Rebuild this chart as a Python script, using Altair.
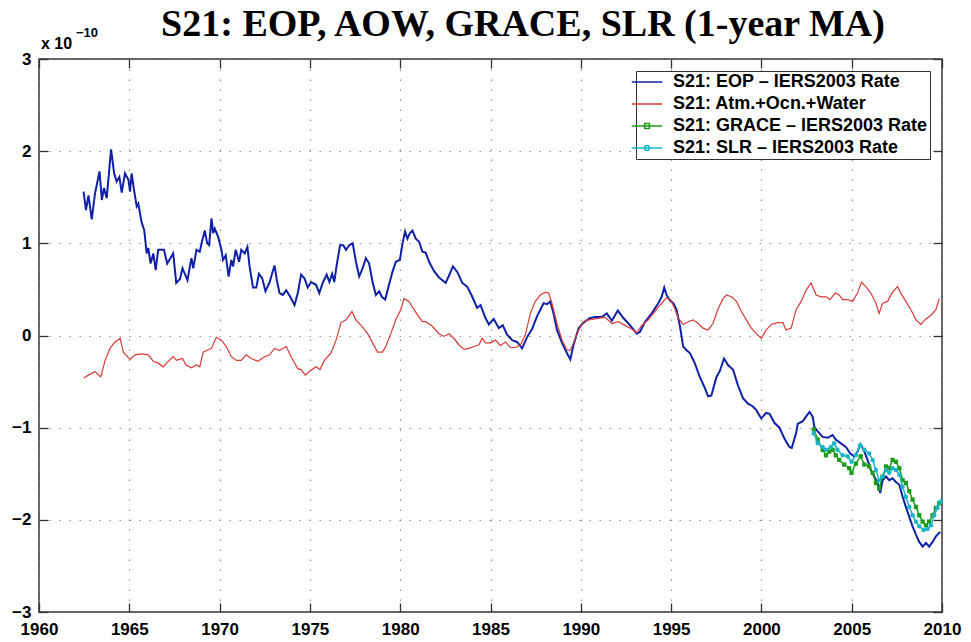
import altair as alt
import pandas as pd

# ---------------- data (units of 1e-10) ----------------
eop_year = [1962.47, 1962.6, 1962.74, 1962.92, 1963.1, 1963.35, 1963.48, 1963.6, 1963.75, 1963.99,
            1964.16, 1964.3, 1964.45, 1964.58, 1964.76, 1964.95, 1965.04, 1965.13, 1965.26, 1965.41,
            1965.5, 1965.68, 1965.83, 1965.96, 1966.05, 1966.18, 1966.33, 1966.46, 1966.6, 1966.79,
            1966.92, 1967.1, 1967.28, 1967.43, 1967.6, 1967.8, 1967.95, 1968.07, 1968.22, 1968.44,
            1968.54, 1968.72, 1968.9, 1969.05, 1969.18, 1969.31, 1969.42, 1969.55, 1969.64, 1969.73,
            1969.92, 1970.1, 1970.19, 1970.34, 1970.5, 1970.65, 1970.75, 1970.89, 1971.08, 1971.2,
            1971.39, 1971.54, 1971.66, 1971.85, 1972.03, 1972.18, 1972.36, 1972.54, 1972.77, 1973.04,
            1973.17, 1973.32, 1973.5, 1973.69, 1973.91, 1974.15, 1974.33, 1974.51, 1974.7, 1974.88,
            1975.07, 1975.34, 1975.52, 1975.71, 1975.93, 1976.08, 1976.23, 1976.35, 1976.48, 1976.67,
            1976.85, 1977.0, 1977.18, 1977.37, 1977.55, 1977.73, 1977.92, 1978.1, 1978.28, 1978.47,
            1978.65, 1978.84, 1978.98, 1979.17, 1979.35, 1979.57, 1979.76, 1979.98, 1980.13, 1980.27,
            1980.4, 1980.53, 1980.68, 1980.86, 1981.04, 1981.23, 1981.41, 1981.6, 1981.87, 1982.15,
            1982.52, 1982.7, 1982.92, 1983.16, 1983.44, 1983.71, 1983.99, 1984.26, 1984.45, 1984.72,
            1984.91, 1985.18, 1985.46, 1985.68, 1985.92, 1986.2, 1986.47, 1986.75, 1987.02, 1987.3,
            1987.58, 1987.76, 1987.94, 1988.13, 1988.31, 1988.49, 1988.68, 1988.96, 1989.23, 1989.42,
            1989.6, 1989.88, 1990.15, 1990.52, 1990.8, 1991.16, 1991.44, 1991.72, 1992.05, 1992.36,
            1992.73, 1993.1, 1993.28, 1993.56, 1993.93, 1994.29, 1994.48, 1994.62, 1994.75, 1994.94,
            1995.12, 1995.3, 1995.49, 1995.67, 1995.86, 1996.04, 1996.31, 1996.59, 1996.87, 1997.05,
            1997.23, 1997.51, 1997.69, 1997.93, 1998.15, 1998.43, 1998.7, 1998.98, 1999.26, 1999.53,
            1999.72, 1999.99, 2000.27, 2000.45, 2000.73, 2001.0, 2001.28, 2001.55, 2001.68, 2001.92,
            2002.01, 2002.29, 2002.47, 2002.66, 2002.84, 2002.93, 2003.12, 2003.39, 2003.67, 2003.94,
            2004.12, 2004.4, 2004.68, 2004.92, 2005.14, 2005.32, 2005.5, 2005.7, 2005.88, 2006.06,
            2006.25, 2006.43, 2006.58, 2006.71, 2006.9, 2007.08, 2007.26, 2007.45, 2007.64, 2007.82,
            2008.0, 2008.19, 2008.37, 2008.56, 2008.74, 2008.93, 2009.11, 2009.29, 2009.48, 2009.66,
            2009.9]
eop_val = [1.56, 1.36, 1.52, 1.26, 1.54, 1.78, 1.47, 1.60, 1.49, 2.02,
           1.76, 1.67, 1.72, 1.55, 1.76, 1.69, 1.56, 1.76, 1.58, 1.40,
           1.43, 1.23, 1.14, 0.89, 0.95, 0.78, 0.89, 0.71, 0.93, 0.93,
           0.93, 0.78, 0.84, 0.89, 0.57, 0.61, 0.73, 0.67, 0.60, 0.84,
           0.73, 0.93, 0.91, 1.04, 1.14, 1.00, 0.98, 1.27, 1.11, 1.16,
           1.07, 0.93, 0.82, 0.87, 0.64, 0.82, 0.75, 0.93, 0.80, 0.93,
           0.89, 0.96, 0.75, 0.52, 0.52, 0.67, 0.62, 0.48, 0.58, 0.76,
           0.60, 0.46, 0.44, 0.49, 0.42, 0.33, 0.46, 0.66, 0.62, 0.52,
           0.58, 0.55, 0.46, 0.57, 0.66, 0.58, 0.67, 0.58, 0.76, 0.98,
           0.98, 0.93, 0.98, 1.00, 0.80, 0.64, 0.73, 0.84, 0.78, 0.58,
           0.44, 0.48, 0.42, 0.39, 0.53, 0.69, 0.80, 0.82, 1.00, 1.13,
           1.05, 1.11, 1.14, 1.05, 1.02, 0.91, 0.90, 0.80, 0.70, 0.63,
           0.57, 0.65, 0.75, 0.69, 0.57, 0.53, 0.42, 0.30, 0.33, 0.19,
           0.12, 0.18, 0.08, 0.11, 0.01, -0.05, -0.07, -0.14, -0.02, 0.07,
           0.21, 0.28, 0.35, 0.34, 0.37, 0.24, 0.06, -0.08, -0.19, -0.26,
           -0.10, 0.08, 0.14, 0.19, 0.20, 0.20, 0.24, 0.16, 0.27, 0.19,
           0.11, 0.02, 0.04, 0.15, 0.24, 0.35, 0.42, 0.52, 0.44, 0.38,
           0.35, 0.28, 0.10, -0.12, -0.16, -0.19, -0.30, -0.45, -0.57, -0.66,
           -0.65, -0.45, -0.39, -0.25, -0.32, -0.37, -0.54, -0.68, -0.74, -0.77,
           -0.81, -0.90, -0.84, -0.85, -0.95, -1.00, -1.12, -1.21, -1.22, -1.06,
           -0.96, -0.93, -0.88, -0.83, -0.88, -0.99, -1.04, -1.10, -1.11, -1.08,
           -1.13, -1.17, -1.21, -1.28, -1.31, -1.26, -1.18, -1.26, -1.35, -1.46,
           -1.53, -1.60, -1.71, -1.57, -1.53, -1.57, -1.55, -1.59, -1.62, -1.75,
           -1.86, -1.97, -2.07, -2.16, -2.24, -2.29, -2.25, -2.29, -2.24, -2.18,
           -2.13]

aow_year = [1962.47, 1962.74, 1963.1, 1963.42, 1963.66, 1963.93, 1964.21, 1964.49, 1964.67, 1965.04,
            1965.32, 1965.68, 1966.05, 1966.33, 1966.6, 1966.88, 1967.16, 1967.43, 1967.62, 1967.95,
            1968.13, 1968.44, 1968.72, 1968.9, 1969.09, 1969.31, 1969.55, 1969.82, 1970.1, 1970.37,
            1970.65, 1970.93, 1971.2, 1971.48, 1971.76, 1972.12, 1972.49, 1972.77, 1973.04, 1973.32,
            1973.69, 1973.96, 1974.33, 1974.51, 1974.75, 1974.97, 1975.34, 1975.56, 1975.8, 1976.17,
            1976.45, 1976.72, 1977.0, 1977.33, 1977.55, 1977.88, 1978.2, 1978.47, 1978.75, 1979.02,
            1979.2, 1979.48, 1979.76, 1980.03, 1980.21, 1980.49, 1980.77, 1981.04, 1981.23, 1981.41,
            1981.78, 1982.15, 1982.42, 1982.7, 1982.97, 1983.25, 1983.53, 1983.8, 1984.08, 1984.36,
            1984.54, 1984.72, 1985.0, 1985.28, 1985.55, 1985.83, 1986.1, 1986.38, 1986.66, 1986.93,
            1987.21, 1987.48, 1987.76, 1988.04, 1988.22, 1988.4, 1988.68, 1988.96, 1989.23, 1989.42,
            1989.6, 1989.88, 1990.15, 1990.43, 1990.8, 1991.33, 1991.72, 1992.08, 1992.45, 1992.82,
            1993.1, 1993.37, 1993.74, 1994.1, 1994.48, 1994.75, 1994.99, 1995.21, 1995.39, 1995.67,
            1995.95, 1996.22, 1996.5, 1996.77, 1997.05, 1997.32, 1997.6, 1997.88, 1998.06, 1998.34,
            1998.62, 1998.89, 1999.17, 1999.44, 1999.72, 1999.99, 2000.27, 2000.55, 2000.91, 2001.19,
            2001.37, 2001.65, 2001.92, 2002.2, 2002.47, 2002.75, 2003.03, 2003.3, 2003.58, 2003.8,
            2004.09, 2004.31, 2004.5, 2004.77, 2005.05, 2005.32, 2005.54, 2005.79, 2006.06, 2006.34,
            2006.52, 2006.71, 2006.99, 2007.26, 2007.54, 2007.72, 2008.0, 2008.28, 2008.56, 2008.83,
            2009.11, 2009.39, 2009.66, 2009.85]
aow_val = [-0.46, -0.43, -0.39, -0.45, -0.27, -0.14, -0.07, -0.03, -0.18, -0.26,
           -0.21, -0.20, -0.21, -0.28, -0.30, -0.34, -0.28, -0.23, -0.27, -0.25,
           -0.32, -0.35, -0.32, -0.34, -0.18, -0.16, -0.14, -0.02, -0.05, -0.12,
           -0.23, -0.27, -0.27, -0.21, -0.25, -0.28, -0.23, -0.21, -0.14, -0.16,
           -0.12, -0.23, -0.36, -0.37, -0.43, -0.39, -0.34, -0.37, -0.27, -0.19,
           -0.05, 0.14, 0.17, 0.26, 0.17, 0.10, 0.02, -0.08, -0.18, -0.18,
           -0.12, 0.02, 0.17, 0.28, 0.40, 0.37, 0.28, 0.20, 0.15, 0.15,
           0.10, 0.02, -0.01, 0.02, -0.03, -0.10, -0.15, -0.14, -0.12, -0.10,
           -0.03, -0.08, -0.08, -0.05, -0.11, -0.07, -0.13, -0.13, -0.10, 0.01,
           0.24, 0.37, 0.44, 0.47, 0.46, 0.35, 0.13, -0.05, -0.16, -0.16,
           -0.08, 0.06, 0.15, 0.17, 0.18, 0.20, 0.13, 0.15, 0.11, 0.07,
           0.03, 0.11, 0.17, 0.26, 0.35, 0.41, 0.38, 0.29, 0.19, 0.12,
           0.15, 0.17, 0.13, 0.08, 0.06, 0.13, 0.29, 0.40, 0.44, 0.42,
           0.37, 0.26, 0.17, 0.08, 0.02, -0.03, 0.06, 0.12, 0.14, 0.14,
           0.06, 0.08, 0.28, 0.37, 0.49, 0.57, 0.44, 0.42, 0.42, 0.39,
           0.46, 0.44, 0.39, 0.39, 0.37, 0.46, 0.58, 0.53, 0.46, 0.35,
           0.24, 0.35, 0.37, 0.47, 0.53, 0.46, 0.37, 0.28, 0.17, 0.12,
           0.18, 0.22, 0.28, 0.40]

grace_year = [2002.9, 2003.12, 2003.39, 2003.58, 2003.76, 2003.94, 2004.12, 2004.31, 2004.58, 2004.86,
              2004.99, 2005.23, 2005.5, 2005.7, 2005.97, 2006.16, 2006.34, 2006.52, 2006.71, 2006.9,
              2007.08, 2007.26, 2007.45, 2007.64, 2007.82, 2008.0, 2008.19, 2008.37, 2008.56, 2008.74,
              2008.93, 2009.11, 2009.29, 2009.48, 2009.66, 2009.85]
grace_val = [-1.02, -1.13, -1.24, -1.30, -1.26, -1.24, -1.30, -1.35, -1.40, -1.44,
             -1.49, -1.39, -1.31, -1.40, -1.42, -1.49, -1.60, -1.66, -1.53, -1.42,
             -1.44, -1.35, -1.37, -1.44, -1.57, -1.60, -1.69, -1.78, -1.86, -1.95,
             -2.02, -2.06, -2.02, -1.95, -1.87, -1.82]

slr_year = [2002.9, 2003.12, 2003.39, 2003.58, 2003.85, 2004.03, 2004.21, 2004.5, 2004.77, 2004.99,
            2005.23, 2005.47, 2005.7, 2005.97, 2006.16, 2006.34, 2006.52, 2006.71, 2006.9, 2007.08,
            2007.26, 2007.45, 2007.64, 2007.82, 2008.0, 2008.19, 2008.37, 2008.56, 2008.74, 2008.98,
            2009.2, 2009.39, 2009.57, 2009.75, 2009.94]
slr_val = [-1.06, -1.17, -1.21, -1.24, -1.21, -1.17, -1.24, -1.30, -1.31, -1.37,
           -1.30, -1.19, -1.24, -1.28, -1.35, -1.46, -1.57, -1.53, -1.46, -1.49,
           -1.44, -1.46, -1.51, -1.64, -1.75, -1.86, -1.95, -2.02, -2.07, -2.11,
           -2.10, -2.06, -1.95, -1.87, -1.80]

series_names = ["S21: EOP – IERS2003 Rate", "S21: Atm.+Ocn.+Water",
                "S21: GRACE – IERS2003 Rate", "S21: SLR – IERS2003 Rate"]
series_colors = ["#1020a8", "#d93a3a", "#1a9e1a", "#1ab4c8"]
x_ticks = [1960, 1965, 1970, 1975, 1980, 1985, 1990, 1995, 2000, 2005, 2010]
y_ticks = [-3, -2, -1, 0, 1, 2, 3]
title_text = "S21: EOP, AOW, GRACE, SLR (1-year MA)"

# ---------------- chart ----------------
eop_df = pd.DataFrame({"year": eop_year, "value": eop_val})
aow_df = pd.DataFrame({"year": aow_year, "value": aow_val})
grace_df = pd.DataFrame({"year": grace_year, "value": grace_val})
slr_df = pd.DataFrame({"year": slr_year, "value": slr_val})

xs = alt.Scale(domain=[1960, 2010], nice=False, zero=False)
ys = alt.Scale(domain=[-3, 3], nice=False, zero=False)

ax_x_main = alt.Axis(orient="bottom", values=x_ticks, format="d", ticks=False, domain=False,
                     grid=True, title=None, labelPadding=9, labelFlush=False, labelOverlap=False)
ax_y_main = alt.Axis(orient="left", values=y_ticks, ticks=False, domain=False, grid=True,
                     title=None, labelPadding=8, labelOverlap=False)
ax_x_bot = alt.Axis(orient="bottom", offset=-9, values=x_ticks, ticks=True, tickSize=9,
                    labels=False, domain=False, grid=False, title=None)
ax_x_top = alt.Axis(orient="top", offset=-9, values=x_ticks, ticks=True, tickSize=9,
                    labels=False, domain=False, grid=False, title=None)
ax_y_left = alt.Axis(orient="left", offset=-9, values=y_ticks, ticks=True, tickSize=9,
                     labels=False, domain=False, grid=False, title=None)
ax_y_right = alt.Axis(orient="right", offset=-9, values=y_ticks, ticks=True, tickSize=9,
                      labels=False, domain=False, grid=False, title=None)

eop_line = alt.Chart(eop_df).mark_line(color=series_colors[0], strokeWidth=2).encode(
    x=alt.X("year:Q", scale=xs, axis=ax_x_main),
    y=alt.Y("value:Q", scale=ys, axis=ax_y_main))

aow_line = alt.Chart(aow_df).mark_line(color=series_colors[1], strokeWidth=1.2).encode(
    x=alt.X("year:Q", scale=xs, axis=ax_x_bot),
    y=alt.Y("value:Q", scale=ys, axis=ax_y_left))

grace_line = alt.Chart(grace_df).mark_line(color=series_colors[2], strokeWidth=1.5).encode(
    x=alt.X("year:Q", scale=xs, axis=ax_x_top),
    y=alt.Y("value:Q", scale=ys, axis=ax_y_right))
grace_pts = alt.Chart(grace_df).mark_point(shape="square", filled=True, size=18, opacity=1,
                                           color=series_colors[2]).encode(
    x=alt.X("year:Q", scale=xs, axis=None), y=alt.Y("value:Q", scale=ys, axis=None))

slr_line = alt.Chart(slr_df).mark_line(color=series_colors[3], strokeWidth=1.5).encode(
    x=alt.X("year:Q", scale=xs, axis=None), y=alt.Y("value:Q", scale=ys, axis=None))
slr_pts = alt.Chart(slr_df).mark_point(shape="circle", filled=True, size=20, opacity=1,
                                       color=series_colors[3]).encode(
    x=alt.X("year:Q", scale=xs, axis=None), y=alt.Y("value:Q", scale=ys, axis=None))

# legend-only layer (points placed outside the domain and clipped)
lead = "M-2.85,0L-2.85,0"   # zero-length segment: reserves space left of the sample line
legend_paths = [lead + "M-1.9,0L1.9,0", lead + "M-1.9,0L1.9,0",
                lead + "M-1.9,0L1.9,0M-0.3,-0.3L0.3,-0.3L0.3,0.3L-0.3,0.3Z",
                lead + "M-1.9,0L1.9,0M0.3,0A0.3,0.3 0 1,1 -0.3,0A0.3,0.3 0 1,1 0.3,0Z"]
leg = alt.Legend(title=None, orient="top-right", offset=12, strokeColor="#333",
                 fillColor="white", padding=2, labelFont="Liberation Sans", labelFontSize=18,
                 labelFontWeight="bold", labelColor="black", symbolSize=256,
                 symbolStrokeWidth=1.5, rowPadding=4, labelOffset=17, labelLimit=400)
legend_df = pd.DataFrame({"series": series_names, "year": [1960] * 4, "value": [50] * 4})
legend_layer = alt.Chart(legend_df).mark_point(filled=False, clip=True, opacity=1,
                                               strokeWidth=1.5).encode(
    x=alt.X("year:Q", scale=xs, axis=None),
    y=alt.Y("value:Q", scale=ys, axis=None),
    color=alt.Color("series:N", scale=alt.Scale(domain=series_names, range=series_colors), legend=leg),
    shape=alt.Shape("series:N", scale=alt.Scale(domain=series_names, range=legend_paths), legend=leg))

title_layer = alt.Chart(pd.DataFrame({"t": [title_text]})).mark_text(
    align="center", baseline="alphabetic", font="Liberation Serif", fontSize=38,
    fontWeight="bold", color="black").encode(x=alt.value(484), y=alt.value(-23), text="t:N")

exp_base = alt.Chart(pd.DataFrame({"t": ["x 10"]})).mark_text(
    align="left", baseline="alphabetic", font="Liberation Sans",
    fontSize=16, fontWeight="bold", color="black").encode(
    x=alt.value(2), y=alt.value(-10), text="t:N")
exp_pow = alt.Chart(pd.DataFrame({"t": ["−10"]})).mark_text(
    align="left", baseline="alphabetic", font="Liberation Sans",
    fontSize=13, fontWeight="bold", color="black").encode(
    x=alt.value(37), y=alt.value(-22), text="t:N")

chart = alt.layer(
    eop_line, aow_line, grace_line, grace_pts, slr_line, slr_pts, legend_layer,
    title_layer, exp_base, exp_pow
).resolve_axis(x="independent", y="independent").properties(
    width=903, height=553,
    autosize=alt.AutoSizeParams(type="none"),
    padding={"left": 31, "top": 51, "right": 21, "bottom": 26},
).configure_view(stroke="#333", strokeWidth=1.5).configure_axis(
    labelFont="Liberation Sans", labelFontSize=17, labelFontWeight="bold", labelColor="black",
    gridColor="#888", gridDash=[1.5, 8.5], gridWidth=1.2, gridOpacity=0.9,
    tickColor="#333", tickWidth=1.3)

chart.save("out.html", embed_options={"renderer": "svg", "actions": False})
